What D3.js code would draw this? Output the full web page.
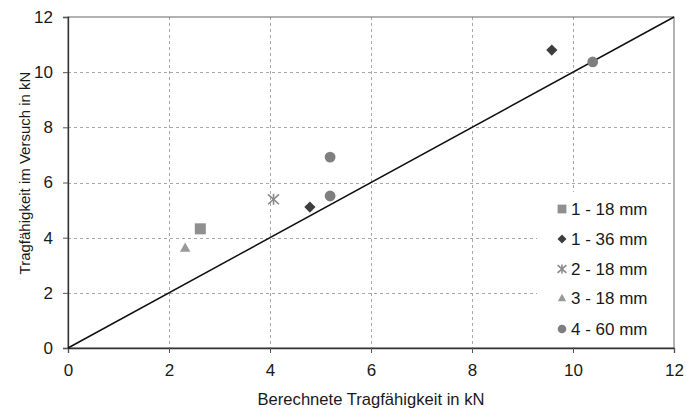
<!DOCTYPE html>
<html>
<head>
<meta charset="utf-8">
<script src="https://cdn.jsdelivr.net/npm/d3@7"></script>
<style>
  html, body { margin: 0; padding: 0; background: #fff; }
  svg { display: block; font-family: "Liberation Sans", Arial, sans-serif; }
</style>
</head>
<body>
<svg id="chart" width="686" height="409"></svg>
<script>
// Load tests: calculated vs. measured capacity (kN)
const seriesNames = ["1 - 18 mm", "1 - 36 mm", "2 - 18 mm", "3 - 18 mm", "4 - 60 mm"];
const s1_18 = [[2.62, 4.32]];
const s1_36 = [[4.79, 5.11], [9.58, 10.80]];
const s2_18 = [[4.07, 5.39]];
const s3_18 = [[2.32, 3.64]];
const s4_60 = [[5.19, 5.51], [5.19, 6.92], [10.39, 10.37]];
const xTicks = [0, 2, 4, 6, 8, 10, 12];
const yTicks = [0, 2, 4, 6, 8, 10, 12];
const xTitle = "Berechnete Tragfähigkeit in kN";
const yTitle = "Tragfähigkeit im Versuch in kN";

const series = [
  { name: seriesNames[0], data: s1_18, symbol: "square", r: 5.5, color: "#8f8f8f" },
  { name: seriesNames[1], data: s1_36, symbol: "diamond", r: 5.6, color: "#3d3d3d" },
  { name: seriesNames[2], data: s2_18, symbol: "cross", r: 5.5, color: "#8a8a8a" },
  { name: seriesNames[3], data: s3_18, symbol: "triangle", r: 5.2, color: "#9a9a9a" },
  { name: seriesNames[4], data: s4_60, symbol: "circle", r: 5.4, color: "#7f7f7f" }
];

const svg = d3.select("#chart");
const x = d3.scaleLinear().domain([0, 12]).range([68, 674]);
const y = d3.scaleLinear().domain([0, 12]).range([348, 17]);

// grid lines
const grid = svg.append("g").attr("stroke", "#a8a8a8").attr("stroke-width", 1)
  .attr("stroke-dasharray", "3,3");
grid.selectAll("line.v").data(xTicks.slice(1, -1)).join("line")
  .attr("x1", d => x(d) + 0.5).attr("x2", d => x(d) + 0.5)
  .attr("y1", y(12)).attr("y2", y(0));
grid.selectAll("line.h").data(yTicks.slice(1, -1)).join("line")
  .attr("y1", d => Math.round(y(d)) + 0.5).attr("y2", d => Math.round(y(d)) + 0.5)
  .attr("x1", x(0)).attr("x2", x(12));

// legend background (covers grid)
svg.append("rect").attr("x", 537).attr("y", 192).attr("width", 136).attr("height", 154)
  .attr("fill", "#fff");

// frame
svg.append("rect").attr("x", x(0)).attr("y", y(12))
  .attr("width", x(12) - x(0)).attr("height", y(0) - y(12))
  .attr("fill", "none").attr("stroke", "#666").attr("stroke-width", 1);

// axes
const xAxis = d3.axisBottom(x).tickValues(xTicks).tickSize(5).tickPadding(11);
const yAxis = d3.axisLeft(y).tickValues(yTicks).tickSize(5).tickPadding(10);
const gx = svg.append("g").attr("transform", `translate(0,${y(0)})`).call(xAxis);
const gy = svg.append("g").attr("transform", `translate(${x(0)},0)`).call(yAxis);
[gx, gy].forEach(g => {
  g.select(".domain").attr("stroke", "#333").attr("stroke-width", 1.3);
  g.selectAll(".tick line").attr("stroke", "#555");
  g.selectAll(".tick text").attr("font-size", 17).attr("fill", "#1a1a1a")
    .attr("font-family", "Liberation Sans, Arial, sans-serif");
});

// 1:1 reference line
svg.append("line")
  .attr("x1", x(0)).attr("y1", y(0)).attr("x2", x(12)).attr("y2", y(12))
  .attr("stroke", "#111").attr("stroke-width", 1.5);

// marker drawing helper; r is the half-width of the marker
function drawMarker(g, s, cx, cy, k) {
  const r = s.r * k;
  const t = `translate(${cx},${cy})`;
  if (s.symbol === "cross") {
    const p = g.append("g").attr("stroke", s.color).attr("stroke-width", 1.6).attr("transform", t);
    p.append("line").attr("x1", -r).attr("y1", -r * 0.9).attr("x2", r).attr("y2", r * 0.9);
    p.append("line").attr("x1", -r).attr("y1", r * 0.9).attr("x2", r).attr("y2", -r * 0.9);
    p.append("line").attr("x1", 0).attr("y1", -r).attr("x2", 0).attr("y2", r);
  } else if (s.symbol === "square") {
    g.append("rect").attr("x", cx - r).attr("y", cy - r).attr("width", 2 * r).attr("height", 2 * r)
      .attr("fill", s.color);
  } else if (s.symbol === "diamond") {
    g.append("path").attr("d", `M0,${-r}L${r},0L0,${r}L${-r},0Z`).attr("transform", t)
      .attr("fill", s.color);
  } else if (s.symbol === "triangle") {
    g.append("path").attr("d", `M0,${-r}L${r},${r * 0.8}L${-r},${r * 0.8}Z`).attr("transform", t)
      .attr("fill", s.color);
  } else {
    g.append("circle").attr("cx", cx).attr("cy", cy).attr("r", r).attr("fill", s.color);
  }
}

const pts = svg.append("g");
series.forEach(s => s.data.forEach(d => drawMarker(pts, s, x(d[0]), y(d[1]), 1)));

// legend
const lg = svg.append("g");
const legendY = [209, 239, 269, 298, 329];
series.forEach((s, i) => {
  const ly = legendY[i];
  drawMarker(lg, s, 562, ly, 0.8);
  lg.append("text").attr("x", 571).attr("y", ly + 6).attr("font-size", 17)
    .attr("fill", "#1a1a1a").text(s.name);
});

// axis titles
svg.append("text").attr("x", 371).attr("y", 405).attr("text-anchor", "middle")
  .attr("font-size", 16.6).attr("fill", "#1a1a1a").text(xTitle);
svg.append("text").attr("transform", "translate(30,173) rotate(-90)")
  .attr("text-anchor", "middle").attr("font-size", 15).attr("fill", "#1a1a1a").text(yTitle);
</script>
</body>
</html>
